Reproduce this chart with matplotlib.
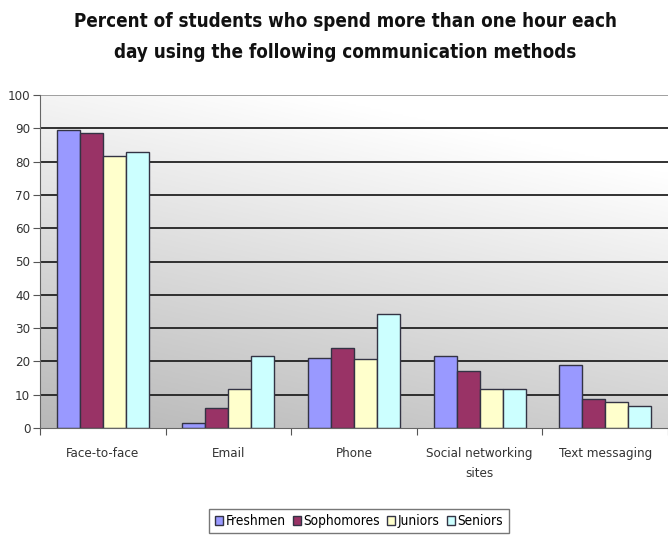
import matplotlib
matplotlib.use("Agg")
import matplotlib.pyplot as plt
import numpy as np
from matplotlib.patches import Patch

categories = ["Face-to-face", "Email", "Phone", "Social networking\nsites", "Text messaging"]
series_names = ["Freshmen", "Sophomores", "Juniors", "Seniors"]
freshmen = [89.5, 1.6, 21, 21.5, 19]
sophomores = [88.7, 6, 24, 17, 8.6]
juniors = [81.7, 11.8, 20.7, 11.7, 7.8]
seniors = [82.9, 21.5, 34.2, 11.7, 6.6]
yticks = list(range(0, 101, 10))
colors = ["#9999FF", "#993366", "#FFFFCC", "#CCFFFF"]
title = "Percent of students who spend more than one hour each\nday using the following communication methods"

plt.rcParams['font.family'] = ['DejaVu Sans']
plt.rcParams['font.stretch'] = 'condensed'

fig = plt.figure(figsize=(6.68, 5.43), dpi=100)
ax = fig.add_axes([40/668, 1 - 428/543, 628/668, 333/543])

n = len(categories)
ax.set_xlim(0, n)
ax.set_ylim(0, 100)

# gradient background
gx = np.linspace(0, 1, 200)
gy = np.linspace(0, 1, 200)
X, Y = np.meshgrid(gx, gy)
val = 0.72 + 0.28 * np.clip(0.35 * X + 0.85 * Y, 0, 1)
img = np.dstack([val, val, val])
ax.imshow(img, extent=[0, n, 0, 100], origin='lower', aspect='auto', zorder=0)

for yv in yticks[1:]:
    ax.axhline(yv, color="#222222" if yv < 100 else "#999999", lw=1.3, zorder=1)

data = [freshmen, sophomores, juniors, seniors]
bw = 0.183
x0 = np.arange(n) + 0.5
for i, (vals, c) in enumerate(zip(data, colors)):
    ax.bar(x0 + (i - 1.5) * bw, vals, width=bw, color=c, edgecolor="#333344",
           linewidth=1.0, zorder=2)

ax.set_yticks(yticks)
ax.set_yticklabels([str(t) for t in yticks], fontsize=9.5, color="#333333")
ax.set_xticks(np.arange(n + 1))
ax.set_xticklabels([])
ax.set_xticks(x0, minor=True)
ax.set_xticklabels(categories, minor=True, fontsize=9.5, color="#333333", linespacing=1.7)
ax.tick_params(axis='x', which='minor', length=0, pad=14)
ax.tick_params(axis='x', which='major', length=5, direction='out', color="#555555")
ax.tick_params(axis='y', length=5, direction='out', color="#555555", pad=2)
for s in ["top", "right"]:
    ax.spines[s].set_visible(False)
ax.spines["left"].set_color("#666666")
ax.spines["bottom"].set_color("#666666")

fig.text(345/668, 1 - 37/543, title, ha='center', va='center', fontsize=13.5,
         fontweight='bold', linespacing=1.75, color="#111111")

handles = [Patch(facecolor=c, edgecolor="#333344", label=nm) for c, nm in zip(colors, series_names)]
leg = fig.legend(handles=handles, loc='center', bbox_to_anchor=(359/668, 1 - 521/543), ncol=4,
                 fontsize=9.8, frameon=True, fancybox=False, edgecolor="#555555",
                 handlelength=0.6, handleheight=0.6, handletextpad=0.2, columnspacing=0.5,
                 borderpad=0.4)
leg.get_frame().set_linewidth(1.0)

fig.savefig("out.png", dpi=100)
